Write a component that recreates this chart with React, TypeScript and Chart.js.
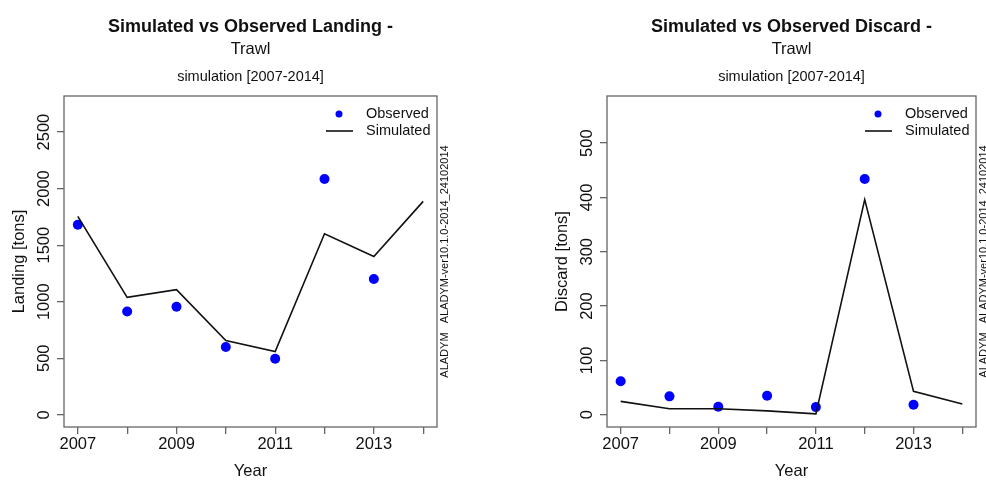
import React, { useEffect, useRef } from "react";
import { Chart, registerables } from "chart.js";

Chart.register(...registerables);

const YEARS = [2007, 2008, 2009, 2010, 2011, 2012, 2013, 2014];
const OBS_YEARS = [2007, 2008, 2009, 2010, 2011, 2012, 2013];
const YEAR_LABELS = ["2007", "", "2009", "", "2011", "", "2013", ""];

const LANDING_OBSERVED = [1681, 914, 955, 599, 495, 2085, 1200];
const LANDING_SIMULATED = [1754, 1038, 1106, 657, 560, 1601, 1400, 1887];
const LANDING_TICKS = [0, 500, 1000, 1500, 2000, 2500];

const DISCARD_OBSERVED = [61.5, 33.8, 14.8, 35, 14, 434, 18.5];
const DISCARD_SIMULATED = [24.6, 11, 11, 7, 1.5, 396, 43, 19.6];
const DISCARD_TICKS = [0, 100, 200, 300, 400, 500];

const SUBTITLE = "Trawl";
const SIM_LABEL = "simulation [2007-2014]";
const SIDE_TEXT = "ALADYM   ALADYM-ver10.1.0-2014_24102014";
const FONT = '"Liberation Sans", Arial, sans-serif';

type PanelProps = {
  title: string;
  yTitle: string;
  observed: number[];
  simulated: number[];
  yTicks: number[];
  yMin: number;
  yMax: number;
  leftWidth: number;
  rightPad: number;
  sideOffset: number;
  left: number;
};

function Panel(p: PanelProps) {
  const ref = useRef<HTMLCanvasElement | null>(null);
  useEffect(() => {
    if (!ref.current) return;
    const textPlugin = {
      id: "rtext",
      afterDraw(chart: any) {
        const { ctx, chartArea: a, scales } = chart;
        ctx.save();
        ctx.strokeStyle = "#666";
        ctx.lineWidth = 1.3;
        ctx.strokeRect(a.left, a.top, a.right - a.left, a.bottom - a.top);
        const cx = (a.left + a.right) / 2;
        const cy = (a.top + a.bottom) / 2;
        ctx.fillStyle = "#111";
        ctx.textAlign = "center";
        ctx.textBaseline = "alphabetic";
        ctx.font = `bold 18px ${FONT}`;
        ctx.fillText(p.title, cx, 32);
        ctx.font = `16.5px ${FONT}`;
        ctx.fillText(SUBTITLE, cx, 54);
        ctx.font = `14.5px ${FONT}`;
        ctx.fillText(SIM_LABEL, cx, 80.5);
        // y tick labels
        ctx.font = `16.5px ${FONT}`;
        const ys = scales.y;
        p.yTicks.forEach((v) => {
          const py = ys.getPixelForValue(v);
          ctx.save();
          ctx.translate(a.left - 20, py);
          ctx.rotate(-Math.PI / 2);
          ctx.textBaseline = "middle";
          ctx.fillText(String(v), 0, 0);
          ctx.restore();
        });
        // y title
        ctx.save();
        ctx.translate(a.left - 45, cy);
        ctx.rotate(-Math.PI / 2);
        ctx.textBaseline = "middle";
        ctx.fillText(p.yTitle, 0, 0);
        ctx.restore();
        // x title
        ctx.textBaseline = "middle";
        ctx.fillText("Year", cx, 471);
        // side text
        ctx.font = `11px ${FONT}`;
        ctx.save();
        ctx.translate(a.right + p.sideOffset, cy);
        ctx.rotate(-Math.PI / 2);
        ctx.textBaseline = "middle";
        ctx.fillText(SIDE_TEXT, 0, 0);
        ctx.restore();
        // legend
        ctx.font = `14.5px ${FONT}`;
        ctx.textAlign = "left";
        ctx.textBaseline = "middle";
        ctx.fillStyle = "#0000ff";
        ctx.beginPath();
        ctx.arc(a.right - 98, a.top + 18, 3.5, 0, Math.PI * 2);
        ctx.fill();
        ctx.fillStyle = "#111";
        ctx.fillText("Observed", a.right - 71, a.top + 18);
        ctx.strokeStyle = "#111";
        ctx.lineWidth = 1.6;
        ctx.beginPath();
        ctx.moveTo(a.right - 111, a.top + 35);
        ctx.lineTo(a.right - 84, a.top + 35);
        ctx.stroke();
        ctx.fillText("Simulated", a.right - 71, a.top + 35);
        ctx.restore();
      },
    };

    const chart = new Chart(ref.current, {
      type: "line",
      data: {
        datasets: [
          {
            label: "Simulated",
            data: YEARS.map((x, i) => ({ x, y: p.simulated[i] })),
            borderColor: "#111",
            borderWidth: 1.6,
            pointRadius: 0,
            tension: 0,
            fill: false,
          },
          {
            label: "Observed",
            data: OBS_YEARS.map((x, i) => ({ x, y: p.observed[i] })),
            showLine: false,
            pointRadius: 5,
            pointBackgroundColor: "#0000ff",
            pointBorderWidth: 0,
            borderColor: "#0000ff",
            backgroundColor: "#0000ff",
          },
        ],
      },
      options: {
        animation: false,
        responsive: false,
        layout: { padding: { left: 0, right: p.rightPad, top: 96, bottom: 0 } },
        plugins: { legend: { display: false }, tooltip: { enabled: false } },
        scales: {
          x: {
            type: "linear",
            min: 2006.72,
            max: 2014.28,
            afterBuildTicks: (axis: any) => {
              axis.ticks = YEARS.map((v) => ({ value: v }));
            },
            afterFit: (s: any) => {
              s.height = 53;
            },
            grid: {
              drawOnChartArea: false,
              drawTicks: true,
              tickLength: 7,
              color: "#666",
              lineWidth: 1.3,
            },
            border: { display: false },
            ticks: {
              autoSkip: false,
              maxRotation: 0,
              minRotation: 0,
              padding: 1,
              color: "#111",
              font: { family: FONT, size: 16.5 },
              callback: (v: any) => {
                const i = YEARS.indexOf(Number(v));
                return i >= 0 ? YEAR_LABELS[i] : "";
              },
            },
          },
          y: {
            type: "linear",
            min: p.yMin,
            max: p.yMax,
            afterBuildTicks: (axis: any) => {
              axis.ticks = p.yTicks.map((v) => ({ value: v }));
            },
            afterFit: (s: any) => {
              s.width = p.leftWidth;
            },
            grid: {
              drawOnChartArea: false,
              drawTicks: true,
              tickLength: 7,
              color: "#666",
              lineWidth: 1.3,
            },
            border: { display: false },
            ticks: { display: false },
          },
        },
      },
      plugins: [textPlugin],
    } as any);
    return () => chart.destroy();
  }, []);
  return (
    <canvas
      ref={ref}
      width={493}
      height={480}
      style={{ position: "absolute", left: p.left, top: 0, width: 493, height: 480 }}
    />
  );
}

export default function App() {
  return (
    <div
      style={{
        position: "fixed",
        left: 0,
        top: 0,
        width: 986,
        height: 480,
        background: "#fff",
        overflow: "hidden",
      }}
    >
      <Panel
        title="Simulated vs Observed Landing -"
        yTitle="Landing [tons]"
        observed={LANDING_OBSERVED}
        simulated={LANDING_SIMULATED}
        yTicks={LANDING_TICKS}
        yMin={-108}
        yMax={2819}
        leftWidth={64}
        rightPad={56}
        sideOffset={8}
        left={0}
      />
      <Panel
        title="Simulated vs Observed Discard -"
        yTitle="Discard [tons]"
        observed={DISCARD_OBSERVED}
        simulated={DISCARD_SIMULATED}
        yTicks={DISCARD_TICKS}
        yMin={-22.6}
        yMax={586.8}
        leftWidth={114}
        rightPad={10}
        sideOffset={8}
        left={493}
      />
    </div>
  );
}
